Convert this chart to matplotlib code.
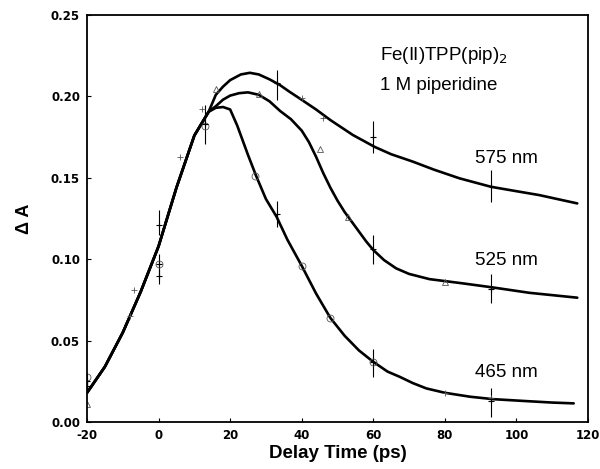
import numpy as np
import matplotlib
matplotlib.use("Agg")
from matplotlib import pyplot as plt

# fitted curves
rise_x = [-20, -15, -10, -5, 0, 5, 10, 14]
rise_y = [0.018, 0.034, 0.055, 0.080, 0.108, 0.144, 0.176, 0.1906]

x465 = [16, 18, 20, 22, 25, 27.3, 30, 33, 36, 40, 44, 48, 52, 56, 60, 64, 67.4, 71, 74.8, 80,
        87, 93.4, 102.7, 110, 116]
y465 = [0.193, 0.1935, 0.192, 0.182, 0.164, 0.151, 0.137, 0.126, 0.112, 0.096, 0.079, 0.064, 0.053, 0.044,
        0.037, 0.031, 0.0278, 0.024, 0.0207, 0.018, 0.0156, 0.0141, 0.0129, 0.012, 0.0115]

x525 = [16, 18, 20, 22.5, 25, 28, 31, 34, 37, 40, 42, 44, 46, 48, 50, 52, 54, 56, 58, 60, 63, 66.4, 70,
        75.7, 85, 93.4, 103.6, 117]
y525 = [0.194, 0.198, 0.2005, 0.202, 0.2025, 0.201, 0.197, 0.191, 0.186, 0.179, 0.172, 0.163, 0.153,
        0.144, 0.136, 0.129, 0.123, 0.117, 0.111, 0.1057, 0.0995, 0.0944, 0.091, 0.0878, 0.0852, 0.0827,
        0.0794, 0.0764]

x575 = [16, 18, 20, 23, 25.5, 28, 31, 33.9, 36.5, 39.4, 44, 48, 54.3, 60.4, 65, 71, 77, 84.1, 92.9,
        100, 106.4, 117]
y575 = [0.201, 0.206, 0.210, 0.2135, 0.2145, 0.2135, 0.2105, 0.207, 0.203, 0.1988, 0.192, 0.1855, 0.1763,
        0.169, 0.1645, 0.160, 0.155, 0.1497, 0.1445, 0.1418, 0.1394, 0.1343]

# measured points with error bars
err_x = [-20, -20, 0, 0, 0, 13, 33, 33, 60, 60, 60, 93, 93, 93]
err_y = [0.025, 0.022, 0.121, 0.097, 0.090, 0.183, 0.208, 0.128, 0.175, 0.106, 0.037, 0.145, 0.082, 0.013]
err_lo = [0.005, 0.003, 0.006, 0.006, 0.005, 0.012, 0.010, 0.008, 0.010, 0.009, 0.009, 0.010, 0.009, 0.010]
err_hi = [0.005, 0.003, 0.009, 0.006, 0.004, 0.012, 0.008, 0.008, 0.010, 0.009, 0.008, 0.010, 0.009, 0.008]

# faint scattered points
tri_x = [-20, 16, 28, 45, 53, 80]
tri_y = [0.011, 0.2045, 0.2015, 0.168, 0.126, 0.086]
circ_x = [-20, 0, 13, 60, 27, 40, 48]
circ_y = [0.028, 0.097, 0.182, 0.037, 0.151, 0.096, 0.064]
plus_x = [-8, -7, 6, 12, 40, 46, 80, 93]
plus_y = [0.065, 0.081, 0.163, 0.192, 0.199, 0.187, 0.018, 0.0147]

plt.rcParams['font.family'] = ['Liberation Sans', 'DejaVu Sans']
plt.rcParams['axes.unicode_minus'] = False

fig = plt.figure(figsize=(6, 4.69), dpi=100)
ax = fig.add_axes([0.145, 0.1, 0.835, 0.868])

for xs, ys in [(x465, y465), (x525, y525), (x575, y575)]:
    ax.plot(rise_x + xs, rise_y + ys, color='black', lw=1.9, solid_capstyle='round',
            solid_joinstyle='round')

ax.errorbar(err_x, err_y, yerr=[err_lo, err_hi], fmt='+', color='black', ms=5, mew=0.8,
            elinewidth=0.8, capsize=0)
ax.plot(tri_x, tri_y, '^', mfc='none', mec='#555555', ms=5, mew=0.6)
ax.plot(circ_x, circ_y, 'o', mfc='none', mec='#555555', ms=5, mew=0.6)
ax.plot(plus_x, plus_y, '+', color='#555555', ms=4, mew=0.6)

ax.set_xlim(-20, 120)
ax.set_ylim(0, 0.25)
ax.set_xticks(np.arange(-20, 121, 20))
ax.set_yticks(np.arange(0, 0.251, 0.05))
ax.set_yticklabels(["0.00", "0.05", "0.10", "0.15", "0.20", "0.25"])
ax.tick_params(direction='in', length=3, width=0.8, pad=5)
for lab in ax.get_xticklabels() + ax.get_yticklabels():
    lab.set_fontweight('bold')
    lab.set_family('DejaVu Sans')
    lab.set_fontsize(8.5)
for s in ax.spines.values():
    s.set_linewidth(1.3)

ax.set_xlabel("Delay Time (ps)", fontsize=13.5, fontweight='bold', labelpad=2)
ax.set_ylabel("Δ A", fontsize=13, fontweight='bold', labelpad=13)

ax.text(61.8, 0.2254, "Fe(II)TPP(pip)$_2$", fontsize=13.5, va='center')
ax.text(61.8, 0.207, "1 M piperidine", fontsize=13.5, va='center')
ax.text(88.3, 0.162, "575 nm", fontsize=13.5, va='center')
ax.text(88.3, 0.0995, "525 nm", fontsize=13.5, va='center')
ax.text(88.3, 0.0307, "465 nm", fontsize=13.5, va='center')

fig.savefig("out.png", dpi=100)
